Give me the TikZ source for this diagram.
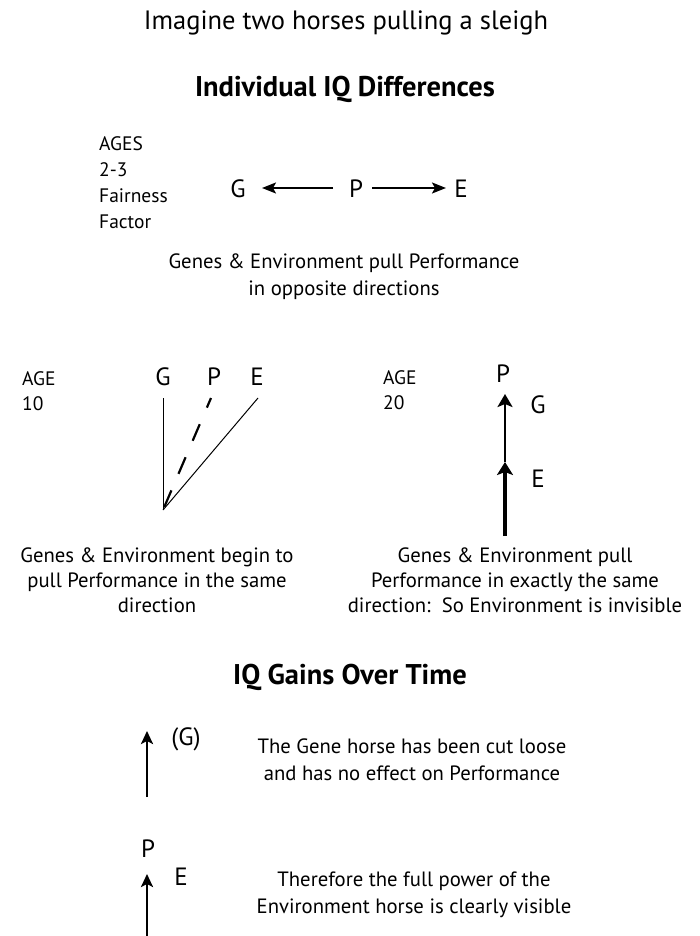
\documentclass[tikz,border=0pt]{standalone}
\usepackage{fontspec}
\setmainfont{PT Sans}
\usetikzlibrary{arrows.meta}
\begin{document}
\begin{tikzpicture}[x=1pt,y=-1pt,
  body/.style={font=\fontsize{20.7}{27}\selectfont, align=center, inner sep=0pt, anchor=base},
  tight/.style={font=\fontsize{20.7}{25}\selectfont},
  side/.style={font=\fontsize{19.5}{26}\selectfont, inner sep=0pt, anchor=base west},
  letter/.style={font=\fontsize{25}{30}\selectfont, inner sep=0pt, anchor=base},
  headline/.style={font=\bfseries\fontsize{28.5}{32}\selectfont, inner sep=0pt, anchor=base},
  pull/.style={line width=2pt, -{Stealth[length=14pt,width=11pt,inset=3pt]}},
  thinline/.style={line width=1pt},
  dashline/.style={line width=2.2pt, dash pattern=on 18pt off 18pt, dash phase=7.5pt},
]
\useasboundingbox (0,0) rectangle (699,936);

% title and first heading
\node[body, font=\fontsize{26.5}{30}\selectfont] (title) at (346,30) {Imagine two horses pulling a sleigh};
\node[headline] (head1) at (345,97) {Individual IQ Differences};

% ages 2-3
\node[side] (ages) at (99,151) {AGES};
\node[side] (agesn) at (99,177) {2-3};
\node[side] (fair) at (99,202) {Fairness};
\node[side] (fact) at (99,228) {Factor};
\node[letter] (G1) at (238,197) {G};
\node[letter] (P1) at (356,197) {P};
\node[letter] (E1) at (461,197) {E};
\coordinate (G1r) at (262,188);
\coordinate (P1l) at (333,188);
\coordinate (P1r) at (372,188);
\coordinate (E1l) at (446,188);
\draw[pull] (P1l) -- (G1r);
\draw[pull] (P1r) -- (E1l);
\node[body] (cap1) at (344,295) {Genes \& Environment pull Performance\\in opposite directions};

% age 10
\node[side] (age10) at (22,385) {AGE};
\node[side] (age10n) at (22,410) {10};
\node[letter] (G2) at (163,385) {G};
\node[letter] (P2) at (214,385) {P};
\node[letter] (E2) at (257,385) {E};
\coordinate (G2b) at (163,398);
\coordinate (P2b) at (211,398);
\coordinate (E2b) at (258,398);
\coordinate (apex) at (163,510);
\draw[thinline] (G2b) -- (apex);
\draw[thinline] (E2b) -- (apex);
\draw[dashline] (P2b) -- (apex);
\node[body, tight] (cap2) at (157,612) {Genes \& Environment begin to\\pull Performance in the same\\direction};

% age 20
\node[side] (age20) at (383,384) {AGE};
\node[side] (age20n) at (383,409) {20};
\node[letter] (P3) at (503,382) {P};
\node[letter] (G3) at (538,413) {G};
\node[letter] (E3) at (538,487) {E};
\coordinate (top3) at (505,394);
\coordinate (mid3) at (505,462);
\coordinate (base3) at (505,536);
\draw[line width=2.5pt, -{Stealth[length=13pt,width=15pt,inset=3pt]}] (mid3) -- (top3);
\draw[line width=4.5pt, -{Stealth[length=13pt,width=16pt,inset=3pt]}] (base3) -- (mid3);
\node[body, tight] (cap3) at (515,612) {Genes \& Environment pull\\Performance in exactly the same\\direction:\ \ So Environment is invisible};

% IQ gains over time
\node[headline] (head2) at (350,684) {IQ Gains Over Time};
\coordinate (a4base) at (147,797);
\coordinate (a4tip) at (147,731);
\draw[pull, line width=2.7pt, -{Stealth[length=13pt,width=12pt,inset=3pt]}] (a4base) -- (a4tip);
\node[letter] (G4) at (186,745) {(G)};
\node[body] (cap4) at (412,780) {The Gene horse has been cut loose\\and has no effect on Performance};

\node[letter] (P5) at (148,857) {P};
\coordinate (a5tip) at (147,874);
\coordinate (a5base) at (147,936);
\draw[pull, line width=2.7pt, -{Stealth[length=13pt,width=12pt,inset=3pt]}] (a5base) -- (a5tip);
\node[letter] (E5) at (181,885) {E};
\node[body] (cap5) at (414,913) {Therefore the full power of the\\Environment horse is clearly visible};
\end{tikzpicture}
\end{document}
